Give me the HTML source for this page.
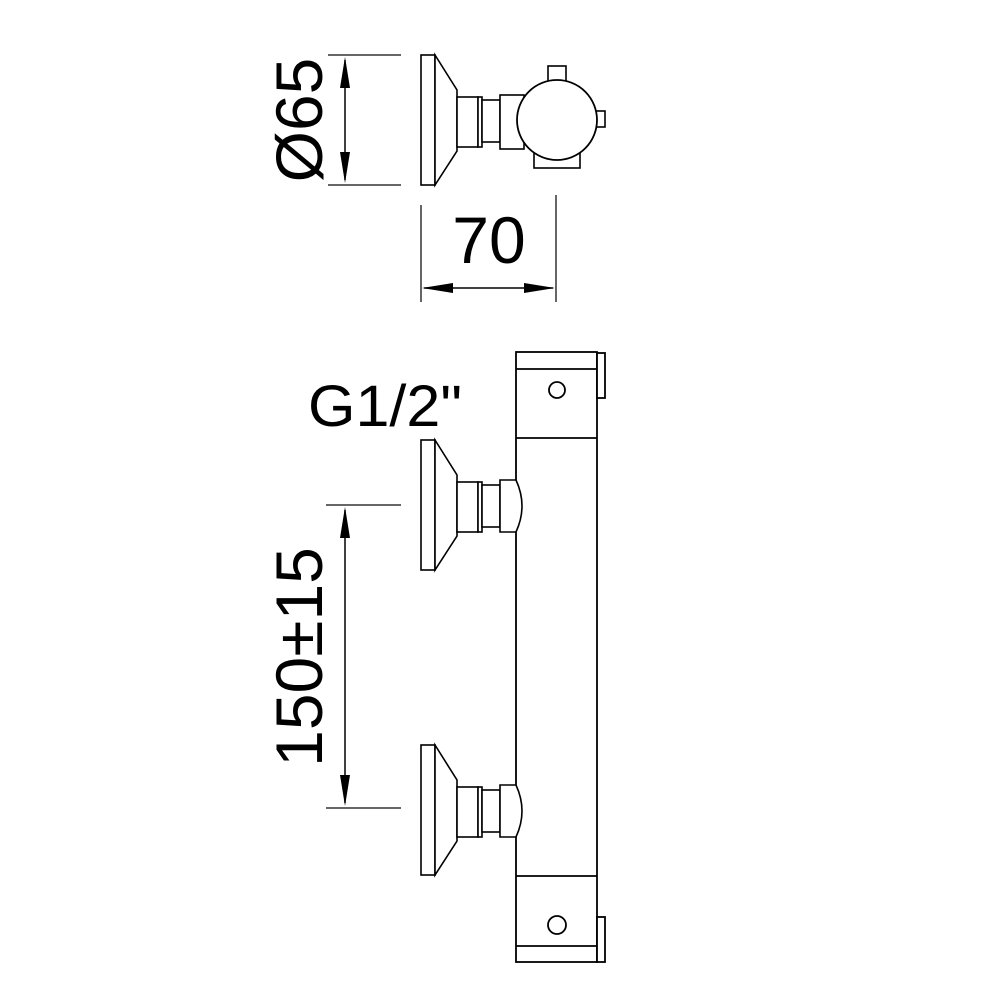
<!DOCTYPE html>
<html><head><meta charset="utf-8"><style>html,body{margin:0;padding:0;background:#fff}svg{display:block}</style></head>
<body>
<svg width="1000" height="1000" viewBox="0 0 1000 1000" xmlns="http://www.w3.org/2000/svg">
<defs>
<g id="valve" fill="#fff" stroke="#000" stroke-width="1.6">
  <rect x="421" y="0" width="14" height="130"/>
  <polygon points="435,0 457,35 457,96 435,130"/>
  <rect x="457" y="42" width="21" height="50"/>
  <rect x="478" y="42" width="4" height="50"/>
  <rect x="482" y="45" width="18" height="42"/>
</g>
</defs>
<g font-family="Liberation Sans, Arial, sans-serif" fill="#000">
<use href="#valve" y="55"/>
<rect x="500" y="95" width="24" height="54" fill="#fff" stroke="#000" stroke-width="1.6"/>
<rect x="548" y="66" width="18" height="20" fill="#fff" stroke="#000" stroke-width="1.6"/>
<rect x="534" y="150" width="46" height="18" fill="#fff" stroke="#000" stroke-width="1.6"/>
<rect x="596" y="111" width="9" height="16" fill="#fff" stroke="#000" stroke-width="1.6"/>
<circle cx="557" cy="120" r="40" fill="#fff" stroke="#000" stroke-width="1.8"/>

<g stroke="#666" stroke-width="2"><line x1="328" y1="55" x2="401" y2="55"/><line x1="328" y1="185" x2="401" y2="185"/></g>
<line x1="345" y1="60" x2="345" y2="180" stroke="#000" stroke-width="1.5"/>
<polygon points="345,57 340,88 350,88"/><polygon points="345,183 340,152 350,152"/>
<text transform="translate(322,120) rotate(-90)" text-anchor="middle" font-size="66">Ø65</text>

<g stroke="#666" stroke-width="2"><line x1="421" y1="205" x2="421" y2="302"/><line x1="556" y1="195" x2="556" y2="302"/></g>
<line x1="424" y1="288" x2="553" y2="288" stroke="#000" stroke-width="1.5"/>
<polygon points="422,288 453,283 453,293"/><polygon points="555,288 524,283 524,293"/>
<text x="489" y="263" text-anchor="middle" font-size="66">70</text>

<g fill="#fff" stroke="#000" stroke-width="1.8">
<rect x="516" y="352" width="81" height="610"/>
<rect x="597" y="353" width="8" height="45"/>
<line x1="516" y1="369" x2="597" y2="369"/>
<line x1="516" y1="438" x2="597" y2="438"/>
<circle cx="557" cy="390" r="8"/>
<line x1="516" y1="876" x2="597" y2="876"/>
<line x1="516" y1="946" x2="597" y2="946"/>
<rect x="597" y="917" width="8" height="45"/>
<circle cx="557" cy="925" r="9"/>
</g>
<use href="#valve" y="440"/>
<path d="M500,480 L516,480 Q528,506 516,532 L500,532 Z" fill="#fff" stroke="#000" stroke-width="1.6"/>
<use href="#valve" y="745"/>
<path d="M500,785 L516,785 Q528,811 516,837 L500,837 Z" fill="#fff" stroke="#000" stroke-width="1.6"/>

<text x="308" y="426" font-size="58" textLength="154" lengthAdjust="spacingAndGlyphs">G1/2"</text>

<g stroke="#666" stroke-width="2"><line x1="326" y1="505" x2="401" y2="505"/><line x1="326" y1="808" x2="401" y2="808"/></g>
<line x1="345" y1="510" x2="345" y2="803" stroke="#000" stroke-width="1.5"/>
<polygon points="345,507 340,538 350,538"/><polygon points="345,806 340,775 350,775"/>
<text transform="translate(322,657) rotate(-90)" text-anchor="middle" font-size="66">150±15</text>
</g>
</svg>
</body></html>
